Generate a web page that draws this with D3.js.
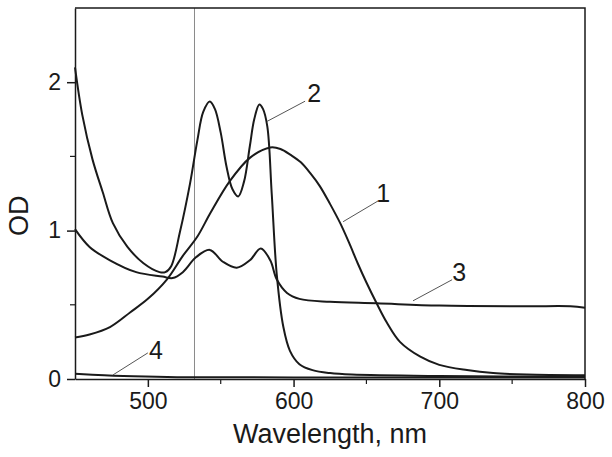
<!DOCTYPE html>
<html>
<head>
<meta charset="utf-8">
<script src="https://cdn.jsdelivr.net/npm/d3@7"></script>
<style>
  body { margin: 0; background: #fff; }
  svg { display: block; font-family: 'Liberation Sans', Arial, sans-serif; }
</style>
</head>
<body>
<div id="app"></div>
<script>
// curve 1
const wl1 = [450, 460, 474, 488, 500, 513, 524, 534, 543, 556, 570, 584, 591, 598, 605, 612, 618, 625, 632, 638, 644, 650, 657, 664, 673, 687, 700, 719, 737, 760, 800]
const od1 = [0.28, 0.30, 0.35, 0.45, 0.54, 0.67, 0.83, 0.96, 1.12, 1.33, 1.49, 1.56, 1.55, 1.51, 1.46, 1.38, 1.30, 1.18, 1.05, 0.92, 0.78, 0.65, 0.51, 0.38, 0.25, 0.15, 0.095, 0.06, 0.04, 0.03, 0.025]

// curve 2
const wl2 = [450, 455, 462, 469, 476, 486, 497, 508, 512, 516, 522, 529, 534, 538, 542.5, 546, 550, 554, 558, 562, 566, 570, 573, 576.5, 579, 582, 585, 588.5, 593, 597.5, 604, 613, 625, 640, 700, 800]
const od2 = [2.10, 1.78, 1.48, 1.26, 1.05, 0.89, 0.78, 0.72, 0.72, 0.76, 0.99, 1.32, 1.61, 1.80, 1.87, 1.82, 1.66, 1.43, 1.28, 1.23, 1.33, 1.57, 1.75, 1.85, 1.82, 1.70, 1.25, 0.70, 0.35, 0.19, 0.10, 0.06, 0.04, 0.03, 0.02, 0.015]

// curve 3
const wl3 = [450, 460, 474, 492, 510, 517, 524, 533, 542.5, 551.5, 561, 570, 577.5, 584, 588.5, 595.5, 604, 625, 657, 700, 760, 790, 800]
const od3 = [1.01, 0.89, 0.80, 0.72, 0.69, 0.68, 0.72, 0.82, 0.87, 0.79, 0.75, 0.80, 0.88, 0.80, 0.67, 0.58, 0.54, 0.52, 0.51, 0.495, 0.49, 0.49, 0.48]

// curve 4
const wl4 = [450, 470, 490, 520, 560, 600, 700, 800]
const od4 = [0.035, 0.025, 0.018, 0.012, 0.012, 0.01, 0.01, 0.01]

const xTicks = [500, 600, 700, 800]
const xMinor = [550, 650, 750]
const yTicks = [0, 1, 2]
const yMinor = [0.5, 1.5]
const laserLine = 532

// curve labels: name, leader from (wl, od) to (wl, od)
const labelNames = ['1', '2', '3', '4']
const leaderFrom = [[634, 1.06], [581.8, 1.736], [682, 0.527], [476, 0.027]]
const leaderTo = [[658, 1.20], [607.9, 1.872], [708.8, 0.669], [500, 0.176]]

const width = 612
const height = 457
const margin = {top: 8, right: 27, bottom: 78, left: 75}

const x = d3.scaleLinear().domain([450, 800]).range([margin.left, width - margin.right])
const y = d3.scaleLinear().domain([0, 2.5]).range([height - margin.bottom, margin.top])

const svg = d3.select('#app')
  .append('svg')
  .attr('width', width)
  .attr('height', height)

const ink = '#1a1a1a'

// laser line
svg.append('line')
  .attr('x1', x(laserLine)).attr('x2', x(laserLine))
  .attr('y1', y(2.5)).attr('y2', y(0))
  .attr('stroke', '#8a8a8a')
  .attr('stroke-width', 1)

// frame top + right
svg.append('path')
  .attr('d', `M${x(450)},${y(2.5)}H${x(800)}V${y(0)}`)
  .attr('fill', 'none')
  .attr('stroke', ink)
  .attr('stroke-width', 1.5)

const xAxis = svg.append('g')
  .attr('transform', `translate(0,${y(0)})`)
  .call(d3.axisBottom(x).tickValues(xTicks).tickSize(8).tickPadding(6).tickSizeOuter(0))
xAxis.selectAll('text').attr('font-size', 23).attr('fill', ink).attr('font-family', null)
xAxis.selectAll('line, path').attr('stroke', ink).attr('stroke-width', 1.5)

xAxis.selectAll('.minor')
  .data(xMinor)
  .join('line')
  .attr('class', 'minor')
  .attr('x1', d => x(d)).attr('x2', d => x(d))
  .attr('y1', 0).attr('y2', 5)
  .attr('stroke', ink)
  .attr('stroke-width', 1.2)

const yAxis = svg.append('g')
  .attr('transform', `translate(${x(450)},0)`)
  .call(d3.axisLeft(y).tickValues(yTicks).tickFormat(d3.format('d')).tickSize(8).tickPadding(6).tickSizeOuter(0))
yAxis.selectAll('text').attr('font-size', 23).attr('fill', ink).attr('font-family', null)
yAxis.selectAll('line, path').attr('stroke', ink).attr('stroke-width', 1.5)

yAxis.selectAll('.minor')
  .data(yMinor)
  .join('line')
  .attr('class', 'minor')
  .attr('x1', -5).attr('x2', 0)
  .attr('y1', d => y(d)).attr('y2', d => y(d))
  .attr('stroke', ink)
  .attr('stroke-width', 1.2)

// axis titles
svg.append('text')
  .attr('x', (x(450) + x(800)) / 2)
  .attr('y', 443)
  .attr('text-anchor', 'middle')
  .attr('font-size', 27)
  .attr('fill', ink)
  .text('Wavelength, nm')

svg.append('text')
  .attr('transform', `translate(28,${y(1.1)}) rotate(-90)`)
  .attr('text-anchor', 'middle')
  .attr('font-size', 27)
  .attr('fill', ink)
  .text('OD')

// spectra
const line = d3.line()
  .x(d => x(d[0]))
  .y(d => y(d[1]))
  .curve(d3.curveCatmullRom.alpha(0.5))

const series = [[wl1, od1], [wl2, od2], [wl3, od3], [wl4, od4]]
svg.selectAll('.spec')
  .data(series)
  .join('path')
  .attr('class', 'spec')
  .attr('d', d => line(d[0].map((w, i) => [w, d[1][i]])))
  .attr('fill', 'none')
  .attr('stroke', ink)
  .attr('stroke-width', 2)
  .attr('stroke-linejoin', 'round')

// labels + leaders
const lab = svg.selectAll('.lab')
  .data(labelNames)
  .join('g')
  .attr('class', 'lab')

lab.append('line')
  .attr('x1', (d, i) => x(leaderFrom[i][0]))
  .attr('y1', (d, i) => y(leaderFrom[i][1]))
  .attr('x2', (d, i) => x(leaderTo[i][0]))
  .attr('y2', (d, i) => y(leaderTo[i][1]))
  .attr('stroke', '#555')
  .attr('stroke-width', 1)

const labDx = [5, 9, 7, 8]
const labDy = [1, 1, 1, 6]
lab.append('text')
  .attr('x', (d, i) => x(leaderTo[i][0]) + labDx[i])
  .attr('y', (d, i) => y(leaderTo[i][1]) + labDy[i])
  .attr('text-anchor', 'middle')
  .attr('font-size', 25)
  .attr('fill', ink)
  .text(d => d)
</script>
</body>
</html>
